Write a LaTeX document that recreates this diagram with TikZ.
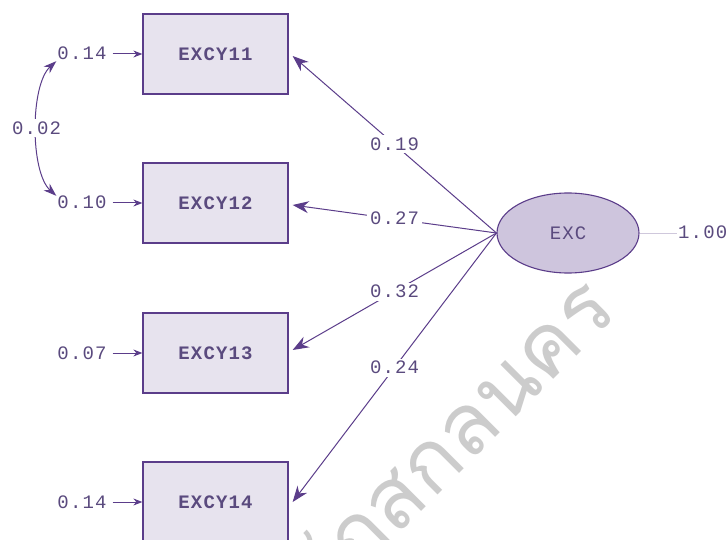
\documentclass[tikz,border=0pt]{standalone}
\usepackage{fontspec}
\newfontfamily\lisfont[LetterSpace=6]{Liberation Mono}
\newfontfamily\thaifont[Script=Thai]{Loma}
\usetikzlibrary{arrows.meta,shapes.geometric}
\definecolor{lpurple}{HTML}{5B3D8A}
\definecolor{ltext}{HTML}{5A4A7E}
\definecolor{boxfill}{HTML}{E7E3EE}
\definecolor{ellfill}{HTML}{CEC5DD}
\definecolor{wmgray}{HTML}{CCCCCC}
\definecolor{linklight}{HTML}{CFC8DC}
\begin{document}
\begin{tikzpicture}[x=1pt,y=-1pt,
  obsbox/.style={draw=lpurple, fill=boxfill, line width=1.3pt, minimum width=145pt, minimum height=80pt, inner sep=0pt, font=\lisfont\bfseries\fontsize{19}{19}\selectfont, text=ltext},
  latent/.style={ellipse, draw=lpurple, fill=ellfill, line width=1.1pt, minimum width=142pt, minimum height=80pt, inner sep=0pt, font=\lisfont\fontsize{19}{19}\selectfont, text=ltext},
  val/.style={font=\lisfont\fontsize{19}{19}\selectfont, text=ltext, inner sep=1pt, text height=12pt, text depth=0pt},
  lbl/.style={val, fill=white, inner sep=3pt},
  loadarrow/.style={draw=lpurple, line width=1pt, -{Stealth[length=16pt,width=12pt]}},
  errarrow/.style={draw=lpurple, line width=1pt, shorten <=5pt, -{Stealth[length=9pt,width=7pt]}},
  covarrow/.style={draw=lpurple, line width=1pt, {Stealth[length=13pt,width=9pt]}-{Stealth[length=13pt,width=9pt]}}
]
\useasboundingbox (0,0) rectangle (728,540);
\fill[white] (0,0) rectangle (728,540);
% watermark
\begin{scope}
\clip (0,0) rectangle (728,540);
\node[rotate=45, anchor=mid east, text=wmgray, font=\thaifont\fontsize{85}{85}\selectfont, inner sep=0pt] (wm) at (618,312) {ราชภัฏสกลนคร};
\end{scope}
% observed variables
\node[obsbox] (b1) at (215.5,54) {EXCY11};
\node[obsbox] (b2) at (215.5,203) {EXCY12};
\node[obsbox] (b3) at (215.5,353) {EXCY13};
\node[obsbox] (b4) at (215.5,502) {EXCY14};
% latent
\node[latent] (exc) at (568,233) {EXC};
% error values
\node[val] (e1) at (82,54) {0.14};
\node[val] (e2) at (82,203) {0.10};
\node[val] (e3) at (82,353) {0.07};
\node[val] (e4) at (82,502) {0.14};
\node[val, anchor=west] (v) at (677,233) {1.00};
% error arrows
\draw[errarrow] (e1.east) -- (b1.west);
\draw[errarrow] (e2.east) -- (b2.west);
\draw[errarrow] (e3.east) -- (b3.west);
\draw[errarrow] (e4.east) -- (b4.west);
% covariance
\draw[covarrow] (e1.south west) .. controls (30,85) and (30,172) .. node[lbl] {0.02} (e2.north west);
% loadings
\draw[loadarrow] (exc.west) -- node[lbl] {0.19} ([xshift=4pt,yshift=-2pt]b1.east);
\draw[loadarrow] (exc.west) -- node[lbl] {0.27} ([xshift=4pt,yshift=-2pt]b2.east);
\draw[loadarrow] (exc.west) -- node[lbl] {0.32} ([xshift=4pt,yshift=3pt]b3.east);
\draw[loadarrow] (exc.west) -- node[lbl] {0.24} ([xshift=4pt]b4.east);
% variance of latent
\draw[draw=linklight, line width=1pt] (exc.east) -- (v.west);
\end{tikzpicture}
\end{document}
